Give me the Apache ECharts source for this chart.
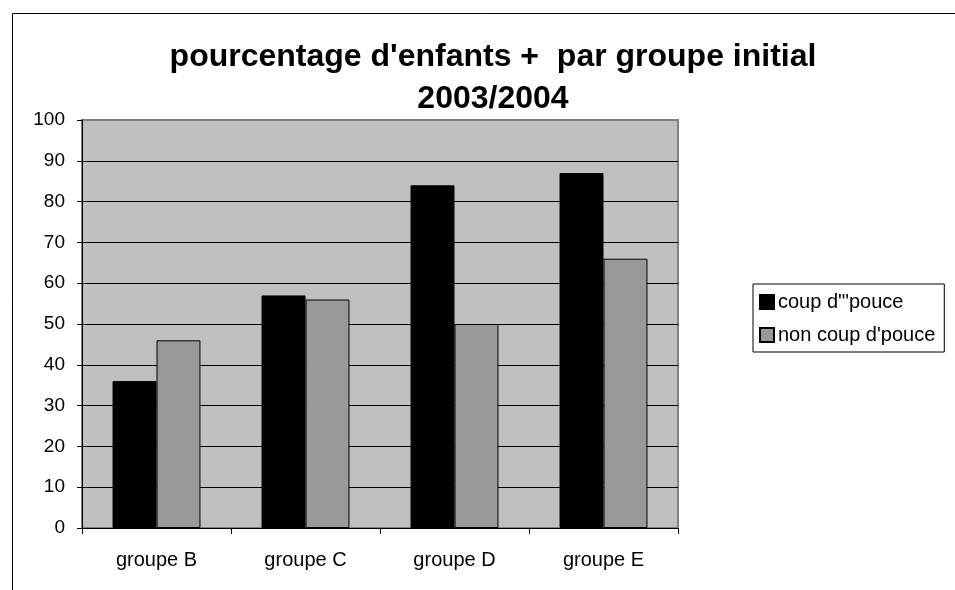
<!DOCTYPE html>
<html>
<head>
<meta charset="utf-8">
<script src="https://cdn.jsdelivr.net/npm/echarts@6/dist/echarts.min.js"></script>
<style>
  html, body { margin: 0; padding: 0; background: #fff; }
  #chart { width: 955px; height: 590px; }
</style>
</head>
<body>
<div id="chart"></div>
<script>
const categories = ['groupe B', 'groupe C', 'groupe D', 'groupe E']
const coupDePouce = [36, 57, 84, 87]
const nonCoupDePouce = [46, 56, 50, 66]
const yTicks = [0, 100, 10] // min, max, interval

const chart = echarts.init(document.getElementById('chart'))

// grid lines black, the top one (100) in the grey of the plot border
const gridColors = []
for (let v = yTicks[0]; v <= yTicks[1]; v += yTicks[2]) {
  gridColors.push(v === yTicks[1] ? '#808080' : '#000')
}

chart.setOption({
  animation: false,
  textStyle: { fontFamily: 'Liberation Sans, Arial, sans-serif', color: '#000' },
  title: {
    text: "pourcentage d'enfants +  par groupe initial\n2003/2004",
    left: 488,
    top: 31,
    textAlign: 'center',
    textStyle: { fontSize: 32, fontWeight: 'bold', color: '#000', lineHeight: 42 }
  },
  graphic: [
    {
      type: 'rect',
      shape: { x: 12.5, y: 13.5, width: 960, height: 600 },
      style: { fill: 'none', stroke: '#000', lineWidth: 1 },
      z: -10
    }
  ],
  legend: {
    orient: 'vertical',
    left: 753,
    top: 284,
    itemWidth: 14,
    itemHeight: 14,
    itemGap: 13,
    padding: [8, 9, 7, 6],
    borderColor: '#000',
    borderWidth: 1,
    icon: 'rect',
    textStyle: { fontSize: 20, color: '#000', padding: [0, 0, 0, -1] },
    data: ["coup d'\"pouce", "non coup d'pouce"]
  },
  grid: {
    left: 82,
    top: 120,
    right: 277,
    bottom: 62,
    show: true,
    backgroundColor: '#c0c0c0',
    borderColor: '#808080',
    borderWidth: 2
  },
  xAxis: {
    type: 'category',
    data: categories,
    axisLine: { lineStyle: { color: '#000', width: 1 } },
    axisTick: { show: true, length: 6, lineStyle: { color: '#000' } },
    axisLabel: { fontSize: 20, color: '#000', margin: 22 }
  },
  yAxis: {
    type: 'value',
    min: yTicks[0],
    max: yTicks[1],
    interval: yTicks[2],
    axisLine: { show: true, lineStyle: { color: '#000', width: 1 } },
    axisTick: { show: true, length: 5, lineStyle: { color: '#000' } },
    axisLabel: { fontSize: 19, color: '#000', margin: 17 },
    splitLine: { show: true, lineStyle: { color: gridColors, width: 1 } }
  },
  series: [
    {
      name: "coup d'\"pouce",
      type: 'bar',
      data: coupDePouce,
      barGap: '0%',
      barCategoryGap: '41%',
      itemStyle: { color: '#000', borderColor: '#000', borderWidth: 1 }
    },
    {
      name: "non coup d'pouce",
      type: 'bar',
      data: nonCoupDePouce,
      itemStyle: { color: '#999999', borderColor: '#000', borderWidth: 1 }
    }
  ]
})
</script>
</body>
</html>
